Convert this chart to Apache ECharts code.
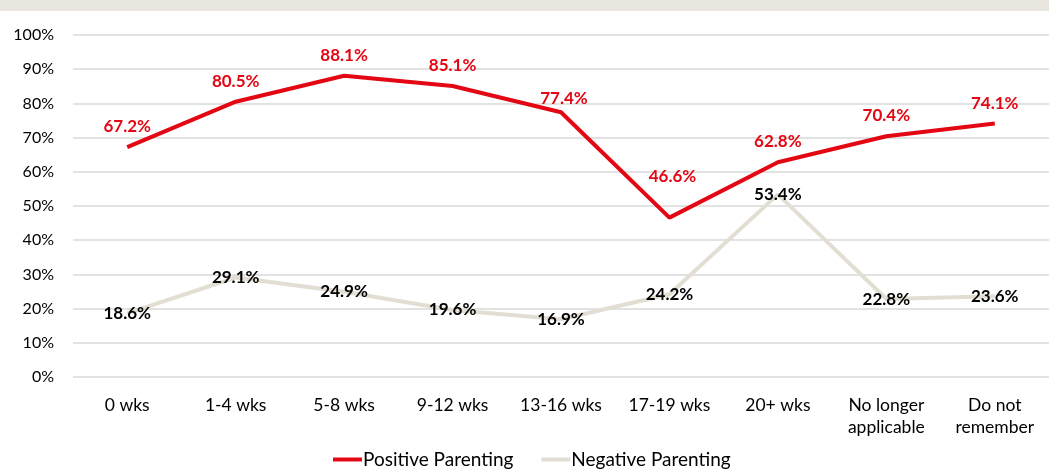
<!DOCTYPE html>
<html>
<head>
<meta charset="utf-8">
<script src="https://cdn.jsdelivr.net/npm/echarts@6/dist/echarts.min.js"></script>
<style>
  html, body { margin: 0; padding: 0; background: #fff; }
  #band { position: absolute; left: 0; top: 0; width: 1049px; height: 11px; background: #E9E6DF; }
  #chart { width: 1049px; height: 470px; }
</style>
</head>
<body>
<div id="band"></div>
<div id="chart"></div>
<script>
const categories = ['0 wks', '1-4 wks', '5-8 wks', '9-12 wks', '13-16 wks', '17-19 wks', '20+ wks', 'No longer\napplicable', 'Do not\nremember'];
const positiveParenting = [67.2, 80.5, 88.1, 85.1, 77.4, 46.6, 62.8, 70.4, 74.1];
const negativeParenting = [18.6, 29.1, 24.9, 19.6, 16.9, 24.2, 53.4, 22.8, 23.6];

const FONT = 'Lato';
const RED = '#E30613';
const BEIGE = '#E2DED3';

// a couple of red labels are nudged to keep clear of the line
const labelTweaks = {
  4: { distance: 5, offset: [3, 0] },
  5: { distance: 33, offset: [3, 0] }
};

const chart = echarts.init(document.getElementById('chart'));

chart.setOption({
  animation: false,
  textStyle: { fontFamily: FONT },
  grid: { left: 73, right: 0, top: 35, bottom: 93 },
  legend: {
    bottom: -4,
    left: 328,
    icon: 'rect',
    itemWidth: 29,
    itemHeight: 4,
    itemGap: 28,
    textStyle: { fontFamily: FONT, fontSize: 19, color: '#000', padding: [0, 0, 0, -4] },
    data: ['Positive Parenting', 'Negative Parenting']
  },
  xAxis: {
    type: 'category',
    data: categories,
    boundaryGap: true,
    axisLine: { show: false },
    axisTick: { show: false },
    axisLabel: { color: '#000', fontSize: 17.5, margin: 17, lineHeight: 22, fontFamily: FONT }
  },
  yAxis: {
    type: 'value',
    min: 0,
    max: 100,
    interval: 10,
    axisLine: { show: false },
    axisTick: { show: false },
    axisLabel: { color: '#000', fontSize: 16, margin: 19, formatter: '{value}%', fontFamily: FONT },
    splitLine: { lineStyle: { color: '#D9D9D9', width: 1.5 } }
  },
  series: [
    {
      name: 'Positive Parenting',
      type: 'line',
      data: positiveParenting.map((v, i) =>
        labelTweaks[i] ? { value: v, label: labelTweaks[i] } : v),
      showSymbol: true,
      symbol: 'circle',
      symbolSize: 0.1,
      z: 3,
      lineStyle: { color: RED, width: 4 },
      itemStyle: { color: RED },
      label: {
        show: true,
        position: 'top',
        distance: 12,
        color: RED,
        fontWeight: 'bold',
        fontSize: 17,
        fontFamily: FONT,
        formatter: p => p.value.toFixed(1) + '%'
      }
    },
    {
      name: 'Negative Parenting',
      type: 'line',
      data: negativeParenting,
      showSymbol: true,
      symbol: 'circle',
      symbolSize: 0.1,
      z: 2,
      lineStyle: { color: BEIGE, width: 4 },
      itemStyle: { color: BEIGE },
      label: {
        show: true,
        position: 'inside',
        color: '#000',
        fontWeight: 'bold',
        fontSize: 17,
        fontFamily: FONT,
        formatter: p => p.value.toFixed(1) + '%'
      }
    }
  ]
});
</script>
</body>
</html>
